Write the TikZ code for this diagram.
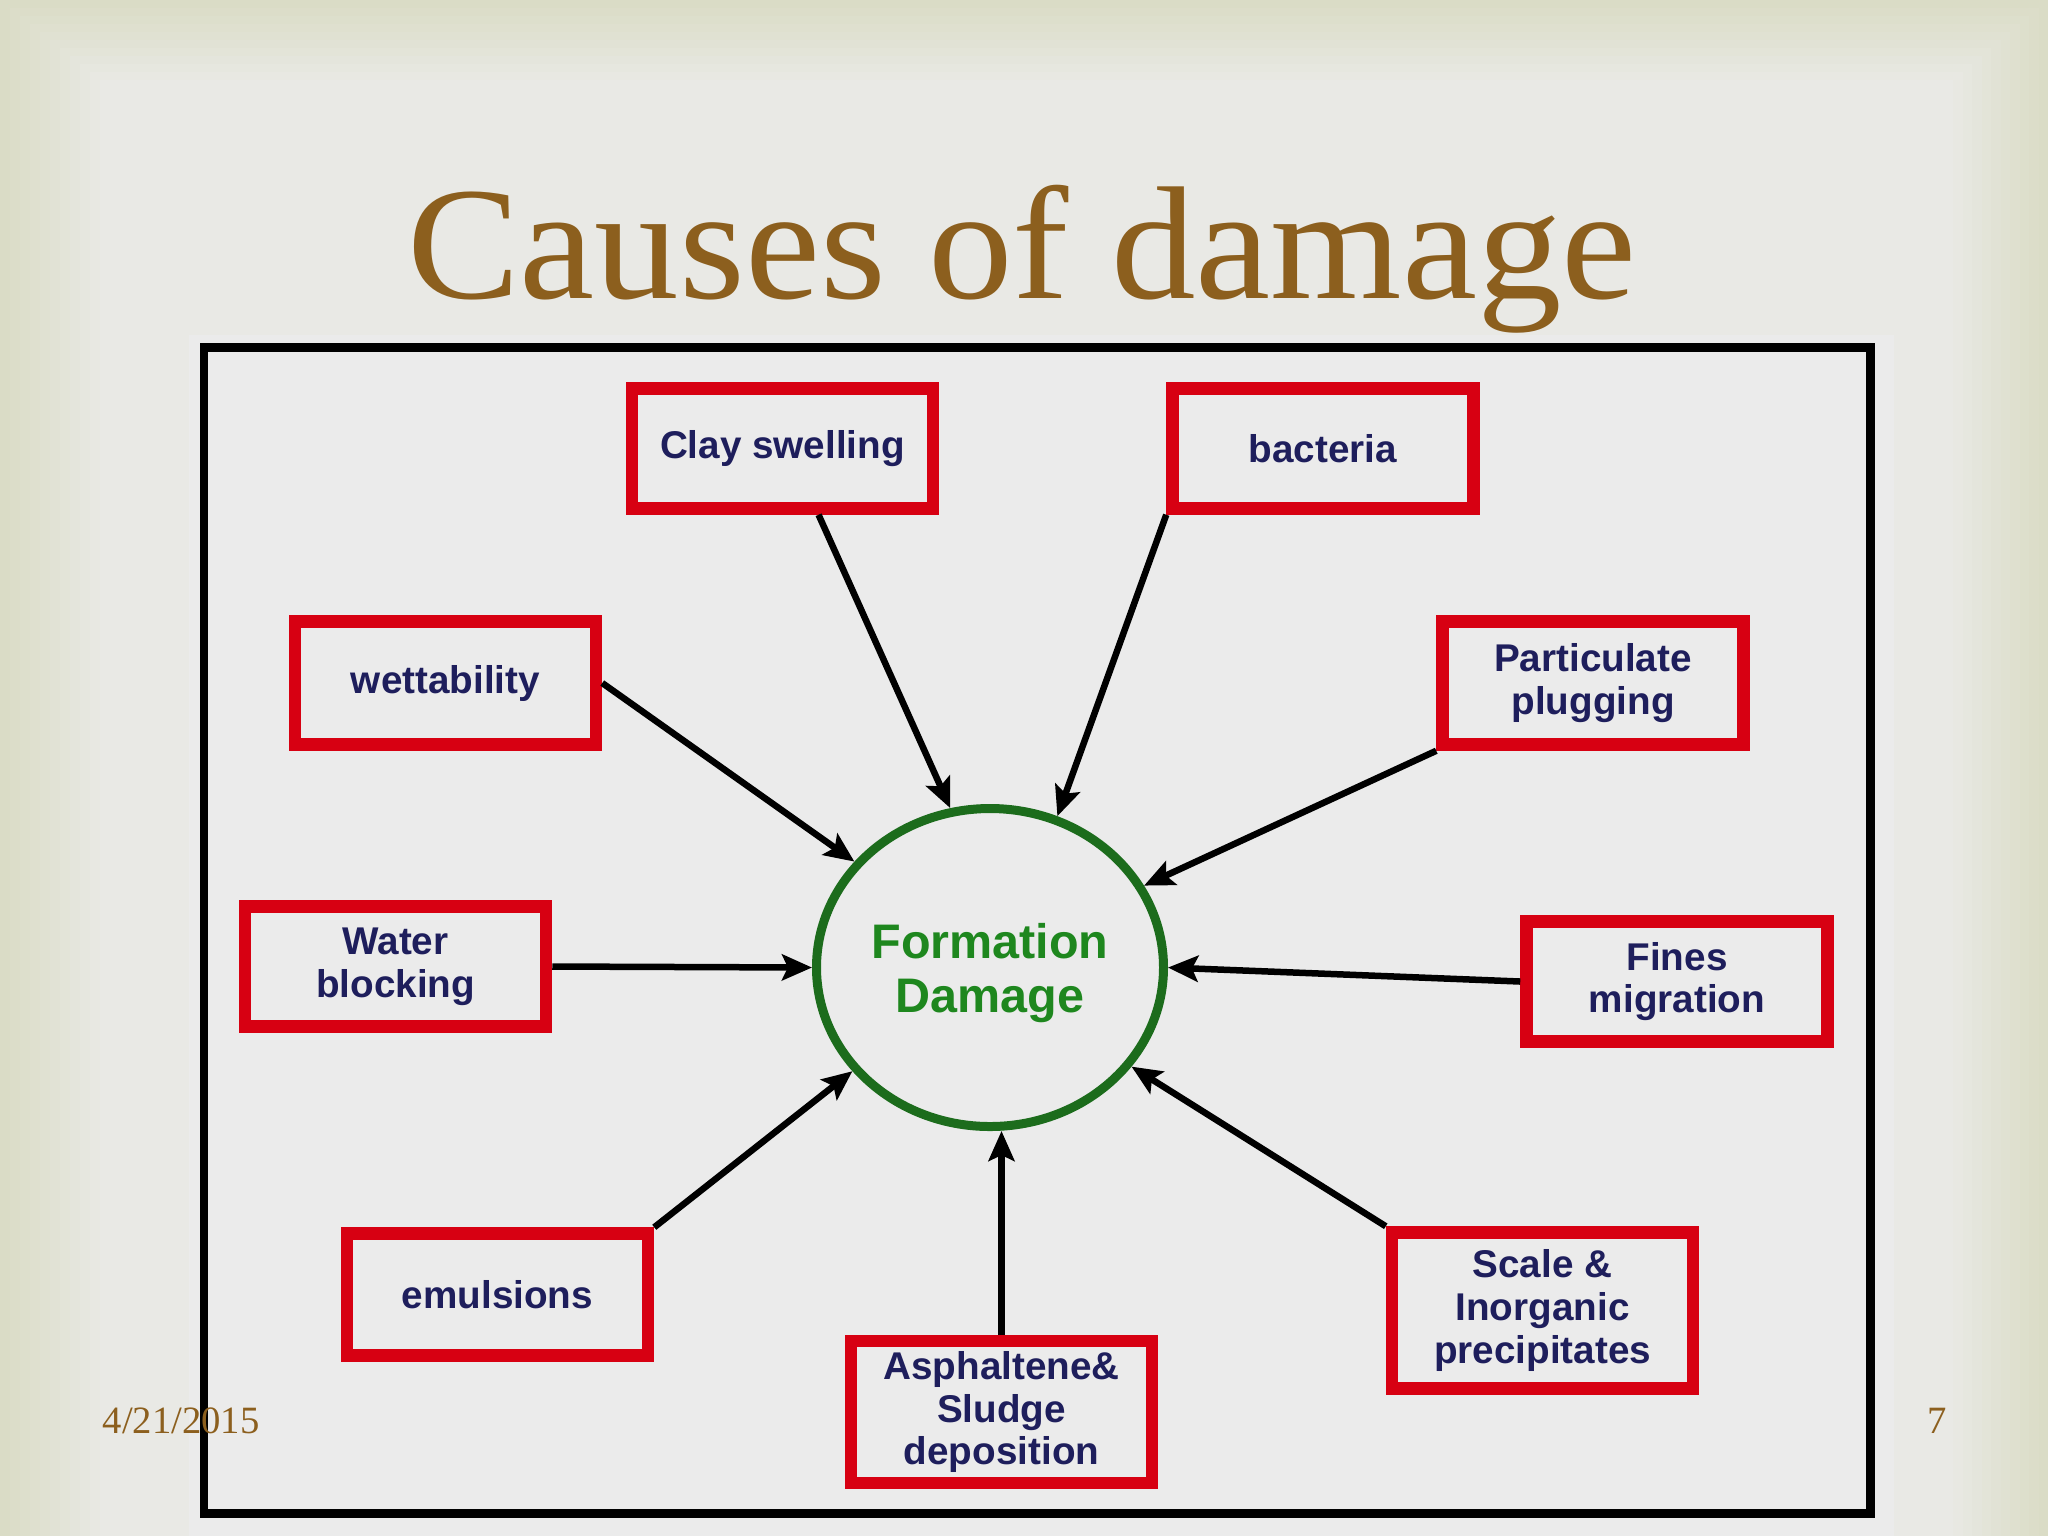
\documentclass[tikz,border=0pt]{standalone}
\usepackage{fontspec}
\usepackage{graphicx}
\setmainfont{Liberation Serif}
\newfontfamily\boxfont{Liberation Sans}
\usetikzlibrary{shapes.geometric,arrows.meta,calc}
\definecolor{bgout}{RGB}{218,220,198}
\definecolor{bgin}{RGB}{233,233,229}
\definecolor{picbg}{RGB}{235,235,235}
\definecolor{boxred}{RGB}{215,0,18}
\definecolor{navy}{RGB}{30,30,92}
\definecolor{fdgreen}{RGB}{28,108,28}
\definecolor{fdtext}{RGB}{30,135,30}
\definecolor{brown}{RGB}{140,95,30}
\tikzset{
  causebox/.style={draw=boxred, line width=1.25mm, fill=picbg, rectangle,
    minimum width=30.1mm, minimum height=12.0mm, inner sep=1mm, align=center,
    text=navy, font=\boxfont\bfseries\fontsize{11pt}{12.2pt}\selectfont},
  fdnode/.style={draw=fdgreen, line width=0.9mm, ellipse, minimum width=34.7mm,
    minimum height=31.8mm, inner sep=0pt, text=fdtext,
    font=\boxfont\bfseries\fontsize{13.8pt}{15.4pt}\selectfont},
  causearrow/.style={line width=0.65mm, -{Stealth[length=3mm,width=2.6mm,inset=0.6mm]}}
}
\begin{document}
\begin{tikzpicture}[x=0.1mm,y=-0.1mm]
\useasboundingbox (0,0) rectangle (2048,1536);
% slide background
\fill[bgout] (0,0) rectangle (2048,1536);
\foreach \i in {0,...,10}{
  \pgfmathsetmacro\p{\i*10}
  \colorlet{tmpc}{bgin!\p!bgout}
  \fill[tmpc] (\i*10,\i*8) rectangle (2048-\i*9.5,1536);
}
% picture background
\fill[picbg] (189,335) rectangle (1894,1536);
% title
\node[anchor=base, text=brown, font=\fontsize{45.8pt}{50pt}\selectfont, inner sep=0pt]
  (title) at (1022,298) {\scalebox{1.05}[1]{Causes of damage}};
% frame
\draw[line width=0.85mm, black] (204,347.5) rectangle (1870.5,1513.5);
% central node
\node[fdnode] (fd) at (990,967.5)
  {\raisebox{-0.7mm}[\height][\depth]{\begin{tabular}{@{}c@{}}Formation\\Damage\end{tabular}}};
% cause boxes
\node[causebox] (clay) at (782.5,448.5) {Clay swelling};
\node[causebox] (bact) at (1323,448.5) {bacteria};
\node[causebox, minimum height=12.3mm] (wett) at (445.5,683) {wettability};
\node[causebox, minimum height=12.3mm] (part) at (1593,683) {Particulate\\plugging};
\node[causebox] (water) at (395.5,966.5) {Water\\blocking};
\node[causebox] (fines) at (1677,981.5) {Fines\\migration};
\node[causebox, minimum height=12.2mm] (emul) at (497.5,1294.5) {emulsions};
\node[causebox, minimum height=13.9mm] (asph) at (1001.5,1412) {Asphaltene\&\\Sludge\\deposition};
\node[causebox, minimum height=15.6mm] (scale) at (1542.5,1310.5) {Scale \&\\Inorganic\\precipitates};
% arrows
\draw[causearrow] ($(clay.south west)!0.615!(clay.south east)$) -- (fd.104);
\draw[causearrow] (bact.south west) -- (fd.66);
\draw[causearrow] (wett.east) -- (fd.142);
\draw[causearrow] (part.south west) -- (fd.28);
\draw[causearrow] (water.east) -- (fd.west);
\draw[causearrow] (fines.west) -- (fd.east);
\draw[causearrow] (emul.north east) -- (fd.217);
\draw[causearrow] (asph.north) -- (asph.north |- fd.south);
\draw[causearrow] (scale.north west) -- (fd.325);
% footer
\node[anchor=base west, text=brown, font=\fontsize{11pt}{12pt}\selectfont, inner sep=0pt]
  (date) at (102,1433) {4/21/2015};
\node[anchor=base, text=brown, font=\fontsize{11pt}{12pt}\selectfont, inner sep=0pt]
  (page) at (1937,1433) {7};
\end{tikzpicture}
\end{document}
